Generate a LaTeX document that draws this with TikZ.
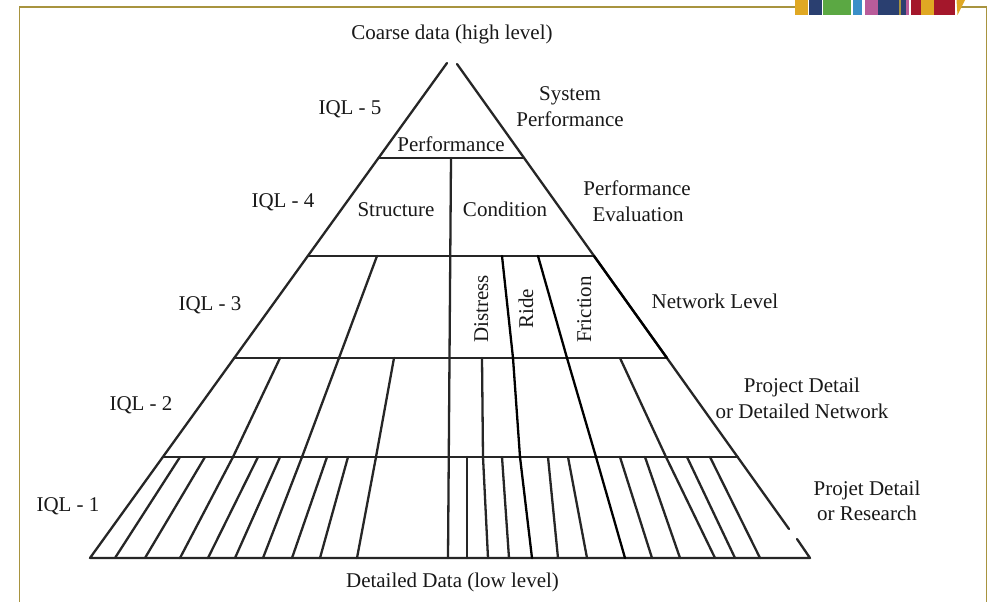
\documentclass[tikz,border=0pt]{standalone}
\usepackage{fontspec}
\setmainfont{Liberation Serif}
\definecolor{framegold}{HTML}{A8943F}
\definecolor{stripgold}{HTML}{E0A823}
\definecolor{stripnavy}{HTML}{2A3F70}
\definecolor{stripgreen}{HTML}{5BA843}
\definecolor{stripblue}{HTML}{3A8FC8}
\definecolor{strippink}{HTML}{B95C9A}
\definecolor{stripred}{HTML}{A4172B}
\tikzset{
  pl/.style={line width=2.3bp, draw=black!85, line cap=round, line join=round},
  lbl/.style={font=\fontsize{21bp}{26bp}\selectfont, inner sep=0pt, anchor=base, text=black!90},
  framed/.style={line width=1.6bp, draw=framegold},
}
\begin{document}
\begin{tikzpicture}[x=1bp,y=-1bp]
\useasboundingbox (0,0) rectangle (988,602);
\fill[white] (0,0) rectangle (988,602);

% slide frame
\draw[framed] (795,7) -- (19.5,7) -- (19.5,602);
\draw[framed] (958,7) -- (986.5,7) -- (986.5,602);

% colour strip
\fill[stripgold]  (795,0) rectangle (808,15);
\fill[stripnavy]  (809,0) rectangle (822,15);
\fill[stripgreen] (823,0) rectangle (851,15);
\fill[stripblue]  (853,0) rectangle (862,15);
\fill[strippink]  (865,0) rectangle (878,15);
\fill[stripnavy]  (878,0) rectangle (899,15);
\fill[framegold]  (899,0) rectangle (901,15);
\fill[stripnavy]  (901,0) rectangle (906,15);
\fill[strippink]  (906,0) rectangle (909,15);
\fill[stripred]   (911,0) rectangle (921,15);
\fill[stripgold]  (921,0) rectangle (934,15);
\fill[stripred]   (934,0) rectangle (955,15);
\fill[stripgold]  (956.5,0) -- (965,0) -- (957.5,15) -- cycle;

% pyramid corners
\coordinate (apexL) at (447,63);
\coordinate (apexR) at (457,64);
\coordinate (BL) at (90,558);
\coordinate (BR) at (810,558);
\coordinate (gapA) at (789,529);
\coordinate (gapB) at (797,539);
% edge points of the level boundaries
\coordinate (L5) at (378.5,158); \coordinate (R5) at (524,158);
\coordinate (L4) at (307.8,256); \coordinate (R4) at (594,256);
\coordinate (L3) at (234,358);   \coordinate (R3) at (667,358);
\coordinate (L2) at (163,457);   \coordinate (R2) at (738,457);

% outline
\draw[pl] (apexL) -- (BL) -- (BR) -- (gapB);
\draw[pl] (apexR) -- (gapA);
% level boundaries
\draw[pl] (L5) -- (R5);
\draw[pl] (L4) -- (R4);
\draw[pl] (L3) -- (R3);
\draw[pl] (L2) -- (R2);
% central divider
\draw[pl] (451,158) -- (449.5,358) -- (448,558);

% dividers running through several levels
\draw[pl] (377,256) -- (339,358) -- (302,457) -- (263,558);
\draw[pl] (280,358) -- (233,457) -- (180,558);
\draw[pl] (394,358) -- (376,457) -- (357,558);
\draw[pl, draw=black] (502,256) -- (513,358) -- (520,457) -- (532,558);
\draw[pl, draw=black] (538,256) -- (567,358) -- (596,457) -- (625,558);
\draw[pl] (482,358) -- (483,457) -- (488,558);
\draw[pl] (620,358) -- (666,457) -- (715,558);
\draw[pl, draw=black] (R4) -- (R3);

% fine dividers of the lowest level
\foreach \a/\b in {180/115, 205/145, 258/208, 280/235, 327/292, 348/320,
                   467/467, 502/509, 548/558, 568/587, 620/652, 645/680,
                   687/735, 710/760}
  \draw[pl] (\a,457) -- (\b,558);

% labels
\node[lbl] (top) at (452,40) {Coarse data (high level)};
\node[lbl] (bottom) at (452.5,587) {Detailed Data (low level)};

\node[lbl] (iql5) at (350,115) {IQL - 5};
\node[lbl] (iql4) at (283,208) {IQL - 4};
\node[lbl] (iql3) at (210,310) {IQL - 3};
\node[lbl] (iql2) at (141,410) {IQL - 2};
\node[lbl] (iql1) at (68,511) {IQL - 1};

\node[lbl] (perf) at (451,152) {Performance};
\node[lbl] (struct) at (396,217) {Structure};
\node[lbl] (cond) at (505,217) {Condition};
\node[lbl, rotate=90] (distress) at (488,309) {Distress};
\node[lbl, rotate=90] (ride) at (533,309) {Ride};
\node[lbl, rotate=90] (friction) at (591,309.5) {Friction};

\node[lbl] (sys1) at (570,101) {System};
\node[lbl] (sys2) at (570,127) {Performance};
\node[lbl] (eval1) at (637,196) {Performance};
\node[lbl] (eval2) at (638,222) {Evaluation};
\node[lbl] (net) at (715,308) {Network Level};
\node[lbl] (proj1) at (802,392) {Project Detail};
\node[lbl] (proj2) at (802,418) {or Detailed Network};
\node[lbl] (res1) at (867,495) {Projet Detail};
\node[lbl] (res2) at (867,520) {or Research};
\end{tikzpicture}
\end{document}
